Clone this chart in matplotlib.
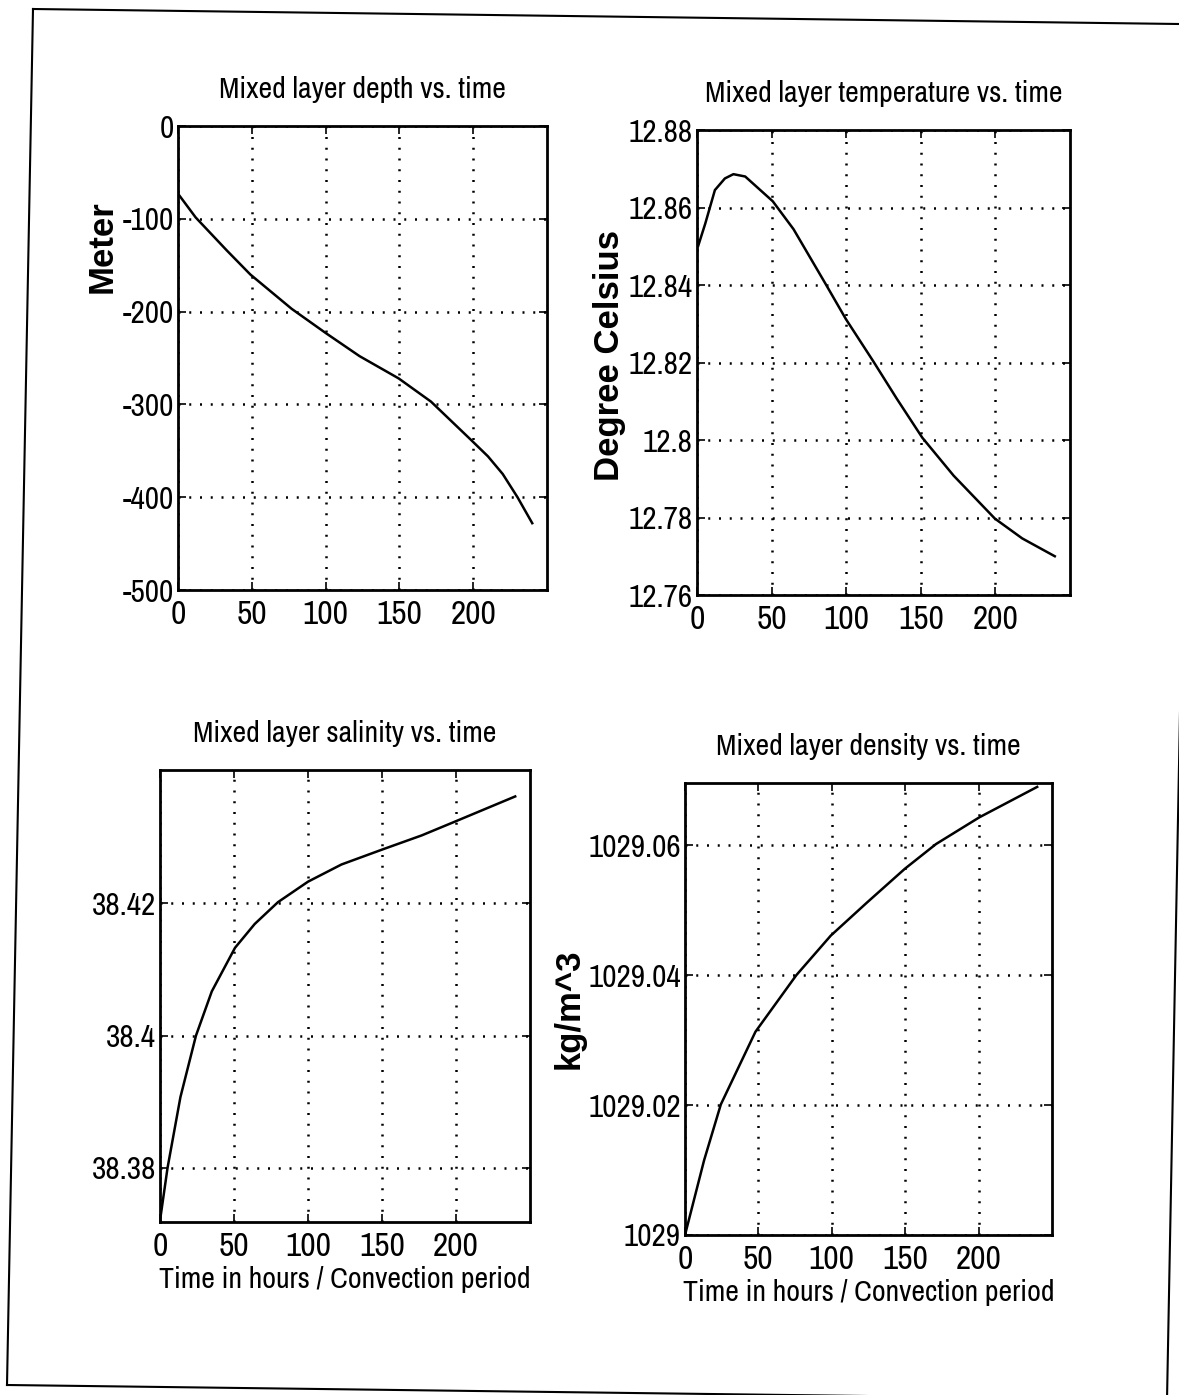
import matplotlib
matplotlib.use('Agg')
import matplotlib.pyplot as plt
from matplotlib.lines import Line2D

# Datos (tiempo en horas)
t_depth = [0.5, 12, 33, 49, 77, 100, 123, 149.5, 171.4, 199, 210, 220, 230, 240]
depth = [-74, -98.6, -134, -160, -197, -223, -248, -272, -297, -339, -356, -375, -400, -428]

t_temp = [0.8, 5.5, 12, 18.7, 24.4, 32.3, 50.8, 64.7, 85.7, 99.8, 118, 134, 151, 172, 199.7, 218, 239.8]
temp = [12.8501, 12.8558, 12.8645, 12.8675, 12.8686, 12.868, 12.8616, 12.8544, 12.8406, 12.8312,
        12.8204, 12.8106, 12.8006, 12.7908, 12.7797, 12.7746, 12.7700]

t_sal = [0, 5.1, 13.8, 24.3, 35, 50.7, 64, 79.7, 100, 122.6, 150.6, 176.8, 199.4, 240]
sal = [38.372, 38.380, 38.3907, 38.400, 38.4067, 38.4133, 38.4169, 38.4202, 38.4233, 38.4259,
       38.4282, 38.4303, 38.4324, 38.4362]

t_dens = [0, 13, 24.4, 48, 75.8, 99.3, 124, 149.8, 171, 200.4, 239.9]
dens = [1029.000, 1029.0115, 1029.0201, 1029.0313, 1029.040, 1029.0461, 1029.0512, 1029.0564,
        1029.0602, 1029.0643, 1029.069]

x_ticks = [0, 50, 100, 150, 200]

plt.rcParams['font.family'] = ['Archivo Narrow', 'Roboto Condensed', 'Liberation Sans', 'DejaVu Sans']

fig = plt.figure(figsize=(11.79, 13.95), dpi=100)
W, H = 1179.0, 1395.0


def caja(x0, x1, y0, y1):
    return fig.add_axes([x0 / W, 1 - y1 / H, (x1 - x0) / W, (y1 - y0) / H])


def estilo(ax, yticks, ylabels, ylim, titulo, ylabel=None, ypos=(0, 0.5), xlabel=None):
    ax.set_xlim(0, 250)
    ax.set_ylim(*ylim)
    ax.set_xticks(x_ticks)
    ax.set_xticklabels([str(v) for v in x_ticks])
    ax.set_yticks(yticks)
    ax.set_yticklabels(ylabels)
    ax.grid(True, color='black', linestyle=(0, (0.8, 3.5)), linewidth=1.8)
    ax.tick_params(direction='in', top=True, right=True, length=6, width=1.2,
                   labelsize=22.5, pad=3)
    ax.tick_params(axis='x', labelsize=24, pad=7)
    for s in ax.spines.values():
        s.set_linewidth(2)
    ax.set_title(titulo, fontsize=21.5, pad=20)
    if ylabel:
        ax.set_ylabel(ylabel, fontsize=25, fontweight='bold',
                      family=['Liberation Sans', 'DejaVu Sans'])
        ax.yaxis.set_label_coords(*ypos)
    if xlabel:
        ax.set_xlabel(xlabel, fontsize=21.5, labelpad=3)


ax1 = caja(178, 547, 126, 590)
ax1.plot(t_depth, depth, color='black', linewidth=1.8)
estilo(ax1, [-500, -400, -300, -200, -100, 0], ['-500', '-400', '-300', '-200', '-100', '0'],
       (-500, 0), 'Mixed layer depth vs. time', ylabel='Meter', ypos=(-0.16, 0.74))

ax2 = caja(697, 1070, 130, 595)
ax2.plot(t_temp, temp, color='black', linewidth=1.8)
estilo(ax2, [12.76, 12.78, 12.80, 12.82, 12.84, 12.86, 12.88],
       ['12.76', '12.78', '12.8', '12.82', '12.84', '12.86', '12.88'],
       (12.76, 12.88), 'Mixed layer temperature vs. time', ylabel='Degree Celsius',
       ypos=(-0.19, 0.515))

ax3 = caja(160, 530, 770, 1222)
ax3.plot(t_sal, sal, color='black', linewidth=1.8)
estilo(ax3, [38.38, 38.40, 38.42], ['38.38', '38.4', '38.42'],
       (38.3718, 38.4402), 'Mixed layer salinity vs. time',
       xlabel='Time in hours / Convection period')

ax4 = caja(685, 1052, 783, 1235)
ax4.plot(t_dens, dens, color='black', linewidth=1.8)
estilo(ax4, [1029.0, 1029.02, 1029.04, 1029.06], ['1029', '1029.02', '1029.04', '1029.06'],
       (1029.0, 1029.0696), 'Mixed layer density vs. time', ylabel='kg/m^3', ypos=(-0.27, 0.5),
       xlabel='Time in hours / Convection period')

# marco de la pagina escaneada (ligeramente girado)
for xs, ys in [([33, 7], [9, 1385]), ([7, 1179], [1385, 1400]),
               ([33, 1179], [9, 24]), ([1193, 1167], [25, 1400])]:
    fig.add_artist(Line2D([x / W for x in xs], [1 - y / H for y in ys],
                          color='black', linewidth=1.5))

plt.savefig('out.png', dpi=100)
